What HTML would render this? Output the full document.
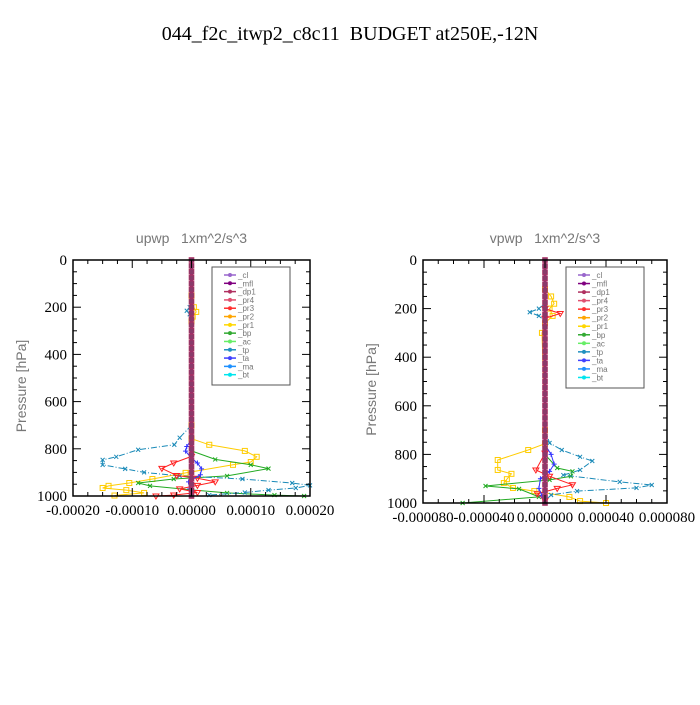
<!DOCTYPE html>
<html><head><meta charset="utf-8"><style>
body{margin:0;background:#fff;}
svg text{font-family:"Liberation Serif",serif;white-space:pre;}
svg text.s{font-family:"Liberation Sans",sans-serif;fill:#777;}
</style></head><body>
<svg id="root" width="700" height="700" xmlns="http://www.w3.org/2000/svg">
<rect width="700" height="700" fill="#fff"/>
<text x="350" y="40" font-size="20" text-anchor="middle" xml:space="preserve">044_f2c_itwp2_c8c11  BUDGET at250E,-12N</text>
</svg>
<script>
// ---- data: upwp (left) ----
const upTpP=[150,200,215,230,250,700,753,783,804,834,847,868,885,900,915,928,945,955,966,975,985,996];
const upTpV=[0,-0.000003,-0.000008,-0.000003,0,0,-0.00002,-0.000029,-0.00009,-0.000127,-0.00015,-0.00015,-0.000112,-0.00008,-0.00002,0.000086,0.00017,0.0002,0.000176,0.00013,0.00009,0.00003];
const upPr1P=[150,200,220,240,260,700,757,783,809,834,856,868,902,928,945,957,966,975,987,998];
const upPr1V=[0,0.000004,0.000008,0.000002,0,0,0,0.00003,0.00009,0.00011,0.0001,0.00007,-0.00001,-0.000066,-0.000105,-0.00014,-0.00015,-0.00011,-0.00008,-0.00013];
const upBpP=[809,845,868,884,915,928,945,957,974,987,996,1000];
const upBpV=[0,0.00004,0.0001,0.00013,0.00006,-0.00003,-0.00009,-0.00007,0,0.00006,0.00014,0.00019];
const upPr3P=[832,860,883,913,925,940,955,970,985,996,1000];
const upPr3V=[0,-0.00003,-0.00005,-0.000025,0.00001,0.00004,0.00001,-0.00002,0.00001,-0.00003,-0.00006];
const upTaP=[760,790,810,840,860,885,910,940,970,1000];
const upTaV=[0,-0.000008,-0.00001,0,0.00001,0.000017,0.000015,-0.000005,-0.000003,0];
// ---- data: vpwp (right) ----
const vpTpP=[180,200,215,230,250,700,753,782,810,827,864,885,913,926,938,951,967,990];
const vpTpV=[0,-0.000004,-0.00001,-0.000004,0,0,0.000003,0.000011,0.000023,0.000031,0.000023,0.000012,0.000049,0.00007,0.00006,0.000021,0.000004,0];
const vpPr1P=[120,150,180,200,230,260,300,700,756,782,823,864,880,902,918,938,951,975,992,1000];
const vpPr1V=[0,0.000004,0.000006,0.000003,0.000005,0,-0.000002,0,0,-0.000011,-0.000031,-0.000031,-0.000022,-0.000025,-0.000027,-0.000021,-0.000007,0.000016,0.000023,0.00004];
const vpBpP=[800,856,870,890,905,930,942,975,1000];
const vpBpV=[0,0.000008,0.000018,0.000017,0.000003,-0.000039,-0.000017,-0.000004,-0.000054];
const vpPr3P=[200,220,240,795,864,890,925,940,962,990];
const vpPr3V=[0,0.00001,0,0,-0.000006,0.000003,0.000018,0.000008,-0.000005,0];
const vpTaP=[760,800,840,870,900,940,970,1000];
const vpTaV=[0,0.000004,0.000006,0.000003,-0.000003,-0.000004,-0.000002,0];
const levels=[0,25,50,75,100,125,150,175,200,225,250,275,300,325,350,375,400,425,450,475,500,525,550,575,600,625,650,675,700,725,750,775,800,825,850,875,900,925,950,975,1000];
const upTicks=[-0.0002,-0.0001,0,0.0001,0.0002];
const upTickLabels=["-0.00020","-0.00010","0.00000","0.00010","0.00020"];
const vpTicks=[-0.00008,-0.00004,0,0.00004,0.00008];
const vpTickLabels=["-0.000080","-0.000040","0.000000","0.000040","0.000080"];
const pTicks=[0,200,400,600,800,1000];
const legendNames=["_cl","_mfl","_dp1","_pr4","_pr3","_pr2","_pr1","_bp","_ac","_tp","_ta","_ma","_bt"];
const legendColors=["#9966cc","#800080","#b03060","#e05070","#ff3030","#ffa500","#ffd700","#33aa33","#66ee66","#2090c0","#4040ff","#1e90ff","#00e5ee"];

const NS="http://www.w3.org/2000/svg";
const root=document.getElementById('root');
function mk(tag,attrs,parent){const e=document.createElementNS(NS,tag);for(const k in attrs)e.setAttribute(k,attrs[k]);(parent||root).appendChild(e);return e;}

function chart(cfg){
  const g=mk('g',{});
  
  
  const X=v=>cfg.x0+(v-cfg.min)/(cfg.max-cfg.min)*(cfg.x1-cfg.x0);
  const Y=p=>cfg.y0+p/1000*(cfg.y1-cfg.y0);
  const t=mk('text',{x:(cfg.x0+cfg.x1)/2,y:cfg.y0-17,'font-size':14,'text-anchor':'middle',class:'s'},g);
  t.textContent=cfg.title;
  
  
  const yt=mk('text',{x:0,y:0,'font-size':14,'text-anchor':'middle',class:'s',transform:`translate(${cfg.x0-47},${(cfg.y0+cfg.y1)/2+8}) rotate(-90)`},g);
  yt.textContent='Pressure [hPa]';
  
  
  function series(P,V,color,dash,marker,name){
    const pts=P.map((p,i)=>X(V[i]).toFixed(1)+','+Y(p).toFixed(1)).join(' ');
    const pl=mk('polyline',{points:pts,fill:'none',stroke:color,'stroke-width':1,'stroke-dasharray':dash||''},g);
    
    
    P.forEach((p,i)=>{const x=X(V[i]),y=Y(p);
      if(marker==='sq')mk('rect',{x:x-2.5,y:y-2.5,width:5,height:5,fill:'none',stroke:color,'stroke-width':1},g);
      else if(marker==='x'){mk('path',{d:`M${x-2},${y-2}L${x+2},${y+2}M${x-2},${y+2}L${x+2},${y-2}`,stroke:color,'stroke-width':1},g);}
      else if(marker==='tri')mk('path',{d:`M${x-3},${y-2}L${x+3},${y-2}L${x},${y+3}Z`,fill:'none',stroke:color,'stroke-width':1},g);
      else mk('path',{d:`M${x-2.5},${y}L${x+2.5},${y}M${x},${y-2.5}L${x},${y+2.5}`,stroke:color,'stroke-width':1},g);
    });
  }
  series(cfg.s.pr1[0],cfg.s.pr1[1],'#ffcc00','','sq','series-pr1');
  series(cfg.s.bp[0],cfg.s.bp[1],'#22aa22','','x','series-bp');
  series(cfg.s.tp[0],cfg.s.tp[1],'#1a8ab8','6,2,1,2','x','series-tp');
  series(cfg.s.pr3[0],cfg.s.pr3[1],'#ff2020','','tri','series-pr3');
  series(cfg.s.ta[0],cfg.s.ta[1],'#3333ff','','+','series-ta');
  const zl=mk('line',{x1:X(0),x2:X(0),y1:Y(0),y2:Y(1000),stroke:'#7a2a7a','stroke-width':3},g);
  
  
  levels.forEach(p=>{mk('rect',{x:X(0)-2.5,y:Y(p)-2.5,width:5,height:5,fill:'#8a3a6a',stroke:'#b03060','stroke-width':0.6},g);});
  const fr=mk('rect',{x:cfg.x0,y:cfg.y0,width:cfg.x1-cfg.x0,height:cfg.y1-cfg.y0,fill:'none',stroke:'#000','stroke-width':1.5},g);
  
  
  for(let p=0;p<=1000;p+=50){const maj=p%200===0,L=maj?8:4;
    mk('line',{x1:cfg.x0,x2:cfg.x0+L,y1:Y(p),y2:Y(p),stroke:'#000'},g);
    mk('line',{x1:cfg.x1,x2:cfg.x1-L,y1:Y(p),y2:Y(p),stroke:'#000'},g);}
  pTicks.forEach(p=>{const tx=mk('text',{x:cfg.x0-6,y:Y(p)+5,'font-size':15,'text-anchor':'end'},g);tx.textContent=p;
    
    });
  const step=(cfg.ticks[1]-cfg.ticks[0])/4;
  for(let v=cfg.min;v<=cfg.max+step/2;v+=step){const maj=Math.abs(((v-cfg.min)/(step*4))-Math.round((v-cfg.min)/(step*4)))<0.01,L=maj?8:4;
    mk('line',{x1:X(v),x2:X(v),y1:cfg.y1,y2:cfg.y1-L,stroke:'#000'},g);
    mk('line',{x1:X(v),x2:X(v),y1:cfg.y0,y2:cfg.y0+L,stroke:'#000'},g);}
  cfg.ticks.forEach((v,i)=>{const tx=mk('text',{x:X(v),y:cfg.y1+19,'font-size':15,'text-anchor':'middle'},g);tx.textContent=cfg.labels[i];
    
    });
  const lg=mk('g',{},g);
  
  
  mk('rect',{x:cfg.lx,y:cfg.ly,width:78,height:cfg.lh,fill:'#fff',stroke:'#555','stroke-width':1},lg);
  const rh=(cfg.lh-10)/13;
  legendNames.forEach((n,i)=>{const y=cfg.ly+8+i*rh;
    const c=legendColors[i];
    mk('line',{x1:cfg.lx+12,x2:cfg.lx+24,y1:y,y2:y,stroke:c,'stroke-width':1.5},lg);
    mk('circle',{cx:cfg.lx+18,cy:y,r:2,fill:c},lg);
    const tx=mk('text',{x:cfg.lx+26,y:y+3,'font-size':8,class:'s'},lg);tx.textContent=n;
    
    });
}
chart({name:'upwp-chart',title:'upwp   1xm^2/s^3',x0:73,x1:310,y0:260,y1:496,min:-0.0002,max:0.0002,ticks:upTicks,labels:upTickLabels,lx:212,ly:267,lh:118,
  s:{tp:[upTpP,upTpV],pr1:[upPr1P,upPr1V],bp:[upBpP,upBpV],pr3:[upPr3P,upPr3V],ta:[upTaP,upTaV]}});
chart({name:'vpwp-chart',title:'vpwp   1xm^2/s^3',x0:423,x1:667,y0:260,y1:503,min:-0.00008,max:0.00008,ticks:vpTicks,labels:vpTickLabels,lx:566,ly:267,lh:121,
  s:{tp:[vpTpP,vpTpV],pr1:[vpPr1P,vpPr1V],bp:[vpBpP,vpBpV],pr3:[vpPr3P,vpPr3V],ta:[vpTaP,vpTaV]}});
</script>
</body></html>
